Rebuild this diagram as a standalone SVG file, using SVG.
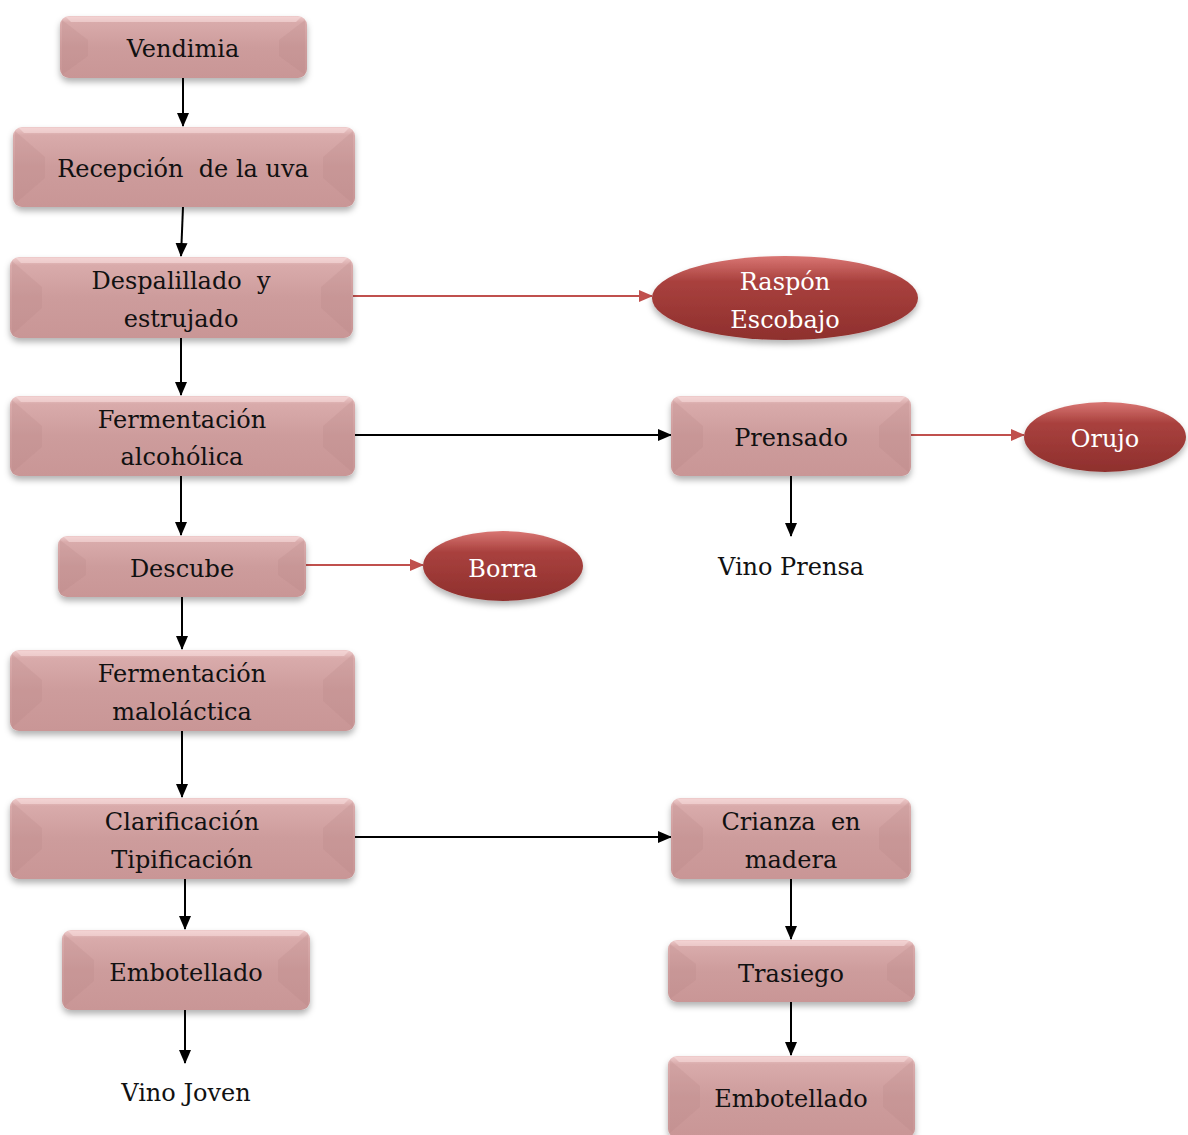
<svg xmlns="http://www.w3.org/2000/svg" width="1188" height="1135" viewBox="0 0 1188 1135">
  <defs>
    <style>
      text { font-family: 'DejaVu Serif', serif; font-size: 24px; text-anchor: middle; }
      .lbl { fill: #111; }
      .lbl-w { fill: #fff; }
      .box { fill: url(#boxFill); filter: url(#shadow); }
      .bevel-side { fill: #b58282; opacity: 0.22; }
      .bevel-top { fill: #f6dada; opacity: 0.6; }
      .oval { fill: url(#ovalFill); filter: url(#shadow); }
      .flow { stroke: #000; stroke-width: 2; fill: none; marker-end: url(#arrowBlack); }
      .flow-red { stroke: #c0504d; stroke-width: 2; fill: none; marker-end: url(#arrowRed); }
    </style>
    <linearGradient id="boxFill" x1="0" y1="0" x2="0" y2="1">
      <stop offset="0" stop-color="#efcccc"/>
      <stop offset="0.1" stop-color="#d9abab"/>
      <stop offset="0.5" stop-color="#cd9c9c"/>
      <stop offset="1" stop-color="#c99696"/>
    </linearGradient>
    <linearGradient id="ovalFill" x1="0" y1="0" x2="0" y2="1">
      <stop offset="0" stop-color="#d97673"/>
      <stop offset="0.3" stop-color="#a9413e"/>
      <stop offset="1" stop-color="#8e2f2d"/>
    </linearGradient>
    <filter id="shadow" x="-10%" y="-20%" width="120%" height="150%">
      <feDropShadow dx="0" dy="4" stdDeviation="3" flood-color="#000" flood-opacity="0.3"/>
    </filter>
    <marker id="arrowBlack" markerUnits="userSpaceOnUse" markerWidth="14" markerHeight="14" viewBox="0 0 14 14" refX="13" refY="7" orient="auto">
      <path d="M0,1 L14,7 L0,13 Z" fill="#000"/>
    </marker>
    <marker id="arrowRed" markerUnits="userSpaceOnUse" markerWidth="14" markerHeight="14" viewBox="0 0 14 14" refX="13" refY="7" orient="auto">
      <path d="M0,1 L14,7 L0,13 Z" fill="#c0504d"/>
    </marker>
  </defs>

  <rect width="1188" height="1135" fill="#fff"/>

  <!-- connectors -->
  <g id="connectors">
    <line class="flow" x1="183" y1="78" x2="183" y2="126"/>
    <line class="flow" x1="183" y1="207" x2="181" y2="256"/>
    <line class="flow" x1="181" y1="338" x2="181" y2="395"/>
    <line class="flow" x1="181" y1="476" x2="181" y2="535"/>
    <line class="flow" x1="182" y1="597" x2="182" y2="649"/>
    <line class="flow" x1="182" y1="731" x2="182" y2="797"/>
    <line class="flow" x1="185" y1="879" x2="185" y2="929"/>
    <line class="flow" x1="185" y1="1010" x2="185" y2="1063"/>
    <line class="flow" x1="791" y1="476" x2="791" y2="536"/>
    <line class="flow" x1="791" y1="879" x2="791" y2="939"/>
    <line class="flow" x1="791" y1="1002" x2="791" y2="1055"/>
    <line class="flow" x1="355" y1="435" x2="671" y2="435"/>
    <line class="flow" x1="355" y1="837" x2="671" y2="837"/>
    <line class="flow-red" x1="353" y1="296" x2="652" y2="296"/>
    <line class="flow-red" x1="911" y1="435" x2="1024" y2="435"/>
    <line class="flow-red" x1="306" y1="565" x2="423" y2="565"/>
  </g>

  <!-- process steps -->
  <g id="vendimia">
    <rect class="box" x="60" y="16" width="247" height="62" rx="9"/>
    <polygon class="bevel-side" points="62,20 88,40 88,56 62,75"/>
    <polygon class="bevel-side" points="305,20 279,40 279,56 305,75"/>
    <polygon class="bevel-top" points="66,17 301,17 296,22 71,22"/>
    <text class="lbl" x="183" y="57">Vendimia</text>
  </g>

  <g id="recepcion">
    <rect class="box" x="13" y="127" width="342" height="80" rx="9"/>
    <polygon class="bevel-side" points="15,131 45,157 45,178 15,204"/>
    <polygon class="bevel-side" points="353,131 323,157 323,178 353,204"/>
    <polygon class="bevel-top" points="19,128 349,128 344,133 24,133"/>
    <text class="lbl" x="183" y="177" xml:space="preserve">Recepción  de la uva</text>
  </g>

  <g id="despalillado">
    <rect class="box" x="10" y="257" width="343" height="81" rx="9"/>
    <polygon class="bevel-side" points="12,261 42,287 42,308 12,335"/>
    <polygon class="bevel-side" points="351,261 321,287 321,308 351,335"/>
    <polygon class="bevel-top" points="16,258 347,258 342,263 21,263"/>
    <text class="lbl" x="181" y="289" xml:space="preserve">Despalillado  y</text>
    <text class="lbl" x="181" y="327">estrujado</text>
  </g>

  <g id="fermentacion-alcoholica">
    <rect class="box" x="10" y="396" width="345" height="80" rx="9"/>
    <polygon class="bevel-side" points="12,400 42,426 42,447 12,473"/>
    <polygon class="bevel-side" points="353,400 323,426 323,447 353,473"/>
    <polygon class="bevel-top" points="16,397 349,397 344,402 21,402"/>
    <text class="lbl" x="182" y="428">Fermentación</text>
    <text class="lbl" x="182" y="465">alcohólica</text>
  </g>

  <g id="descube">
    <rect class="box" x="58" y="536" width="248" height="61" rx="9"/>
    <polygon class="bevel-side" points="60,540 86,560 86,575 60,594"/>
    <polygon class="bevel-side" points="304,540 278,560 278,575 304,594"/>
    <polygon class="bevel-top" points="64,537 300,537 295,542 69,542"/>
    <text class="lbl" x="182" y="577">Descube</text>
  </g>

  <g id="fermentacion-malolactica">
    <rect class="box" x="10" y="650" width="345" height="81" rx="9"/>
    <polygon class="bevel-side" points="12,654 42,680 42,701 12,728"/>
    <polygon class="bevel-side" points="353,654 323,680 323,701 353,728"/>
    <polygon class="bevel-top" points="16,651 349,651 344,656 21,656"/>
    <text class="lbl" x="182" y="682">Fermentación</text>
    <text class="lbl" x="182" y="720">maloláctica</text>
  </g>

  <g id="clarificacion">
    <rect class="box" x="10" y="798" width="345" height="81" rx="9"/>
    <polygon class="bevel-side" points="12,802 42,828 42,849 12,876"/>
    <polygon class="bevel-side" points="353,802 323,828 323,849 353,876"/>
    <polygon class="bevel-top" points="16,799 349,799 344,804 21,804"/>
    <text class="lbl" x="182" y="830">Clarificación</text>
    <text class="lbl" x="182" y="868">Tipificación</text>
  </g>

  <g id="embotellado-joven">
    <rect class="box" x="62" y="930" width="248" height="80" rx="9"/>
    <polygon class="bevel-side" points="64,934 94,960 94,981 64,1007"/>
    <polygon class="bevel-side" points="308,934 278,960 278,981 308,1007"/>
    <polygon class="bevel-top" points="68,931 304,931 299,936 73,936"/>
    <text class="lbl" x="186" y="981">Embotellado</text>
  </g>

  <g id="vino-joven">
    <text class="lbl" x="186" y="1101">Vino Joven</text>
  </g>

  <g id="prensado">
    <rect class="box" x="671" y="396" width="240" height="80" rx="9"/>
    <polygon class="bevel-side" points="673,400 703,426 703,447 673,473"/>
    <polygon class="bevel-side" points="909,400 879,426 879,447 909,473"/>
    <polygon class="bevel-top" points="677,397 905,397 900,402 682,402"/>
    <text class="lbl" x="791" y="446">Prensado</text>
  </g>

  <g id="vino-prensa">
    <text class="lbl" x="791" y="575">Vino Prensa</text>
  </g>

  <g id="crianza">
    <rect class="box" x="671" y="798" width="240" height="81" rx="9"/>
    <polygon class="bevel-side" points="673,802 703,828 703,849 673,876"/>
    <polygon class="bevel-side" points="909,802 879,828 879,849 909,876"/>
    <polygon class="bevel-top" points="677,799 905,799 900,804 682,804"/>
    <text class="lbl" x="791" y="830" xml:space="preserve">Crianza  en</text>
    <text class="lbl" x="791" y="868">madera</text>
  </g>

  <g id="trasiego">
    <rect class="box" x="668" y="940" width="247" height="62" rx="9"/>
    <polygon class="bevel-side" points="670,944 696,964 696,980 670,999"/>
    <polygon class="bevel-side" points="913,944 887,964 887,980 913,999"/>
    <polygon class="bevel-top" points="674,941 909,941 904,946 679,946"/>
    <text class="lbl" x="791" y="982">Trasiego</text>
  </g>

  <g id="embotellado-crianza">
    <rect class="box" x="668" y="1056" width="247" height="82" rx="9"/>
    <polygon class="bevel-side" points="670,1060 700,1086 700,1107 670,1133"/>
    <polygon class="bevel-side" points="913,1060 883,1086 883,1107 913,1133"/>
    <polygon class="bevel-top" points="674,1057 909,1057 904,1062 679,1062"/>
    <text class="lbl" x="791" y="1107">Embotellado</text>
  </g>

  <!-- by-products -->
  <g id="raspon">
    <ellipse class="oval" cx="785" cy="298" rx="133" ry="42"/>
    <text class="lbl-w" x="785" y="290">Raspón</text>
    <text class="lbl-w" x="785" y="328">Escobajo</text>
  </g>

  <g id="orujo">
    <ellipse class="oval" cx="1105" cy="437" rx="81" ry="35"/>
    <text class="lbl-w" x="1105" y="447">Orujo</text>
  </g>

  <g id="borra">
    <ellipse class="oval" cx="503" cy="566" rx="80" ry="35"/>
    <text class="lbl-w" x="503" y="577">Borra</text>
  </g>
</svg>
